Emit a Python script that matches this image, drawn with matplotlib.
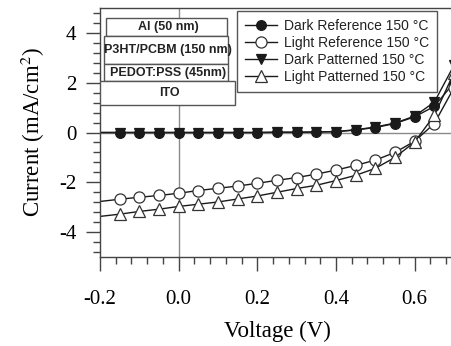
#!/usr/bin/env python3
# J-V curves of reference and patterned devices (dark / light), annealed 150 °C
import matplotlib
matplotlib.use('Agg')
import matplotlib.pyplot as plt
from matplotlib.patches import Rectangle
from matplotlib.ticker import MultipleLocator

# Data
voltage = [-0.2, -0.15, -0.1, -0.05, 0.0, 0.05, 0.1, 0.15, 0.2, 0.25,
           0.3, 0.35, 0.4, 0.45, 0.5, 0.55, 0.6, 0.65, 0.7]
dark_ref = [0.0, 0.0, 0.0, 0.0, 0.0, 0.0, 0.0, 0.0, 0.0, 0.01,
            0.01, 0.02, 0.03, 0.1, 0.2, 0.36, 0.63, 1.05, 2.0]
dark_pat = [0.0, 0.0, 0.0, 0.0, 0.0, 0.0, 0.0, 0.0, 0.0, 0.01,
            0.01, 0.02, 0.04, 0.11, 0.22, 0.38, 0.66, 1.22, 2.7]
light_ref = [-2.77, -2.68, -2.6, -2.53, -2.44, -2.33, -2.24, -2.15, -2.04, -1.92,
             -1.81, -1.67, -1.51, -1.32, -1.11, -0.8, -0.35, 0.36, 1.8]
light_pat = [-3.37, -3.28, -3.17, -3.08, -2.97, -2.88, -2.79, -2.67, -2.55, -2.4,
             -2.25, -2.12, -1.93, -1.72, -1.44, -1.0, -0.38, 0.69, 2.4]

labels = ["Dark Reference 150 °C", "Light Reference 150 °C",
          "Dark Patterned 150 °C", "Light Patterned 150 °C"]
x_ticks = [-0.2, 0.0, 0.2, 0.4, 0.6]
x_ticklabels = ["-0.2", "0.0", "0.2", "0.4", "0.6"]
y_ticks = [-4, -2, 0, 2, 4]
y_ticklabels = ["-4", "-2", "0", "2", "4"]

# device stack drawn in the upper left corner (top to bottom)
layers = ["Al (50 nm)", "P3HT/PCBM (150 nm)", "PEDOT:PSS (45nm)", "ITO"]

plt.rcParams["font.family"] = "serif"
plt.rcParams["font.serif"] = ["Liberation Serif", "DejaVu Serif"]
plt.rcParams["mathtext.fontset"] = "stix"
plt.rcParams["axes.unicode_minus"] = False

W, H = 452, 346
fig = plt.figure(figsize=(W / 100, H / 100), dpi=100)
# axes in pixels: left 100, bottom 257 (from top), top 8; right runs off the picture
ax = fig.add_axes([100 / W, (H - 257) / H, 354 / W, 249 / H])

line_col = "#1a1a1a"
axis_col = "#444444"

ax.axhline(0, color="#8a8a8a", lw=1.0, zorder=1)
ax.axvline(0, color="#8a8a8a", lw=1.0, zorder=1)

marks = list(range(1, len(voltage)))
common = dict(color=line_col, lw=1.0, mew=0.9, markevery=marks, zorder=2)
h_dp, = ax.plot(voltage, dark_pat, marker="v", ms=7, mfc=line_col, mec=line_col, **common)
h_dr, = ax.plot(voltage, dark_ref, marker="o", ms=7, mfc=line_col, mec=line_col, **common)
h_lr, = ax.plot(voltage, light_ref, marker="o", ms=8, mfc="white", mec="#333333", **common)
h_lp, = ax.plot(voltage, light_pat, marker="^", ms=8, mfc="white", mec="#333333", **common)

ax.set_xlim(-0.2, 0.7)
ax.set_ylim(-5, 5)
ax.set_xticks(x_ticks)
ax.set_xticklabels(x_ticklabels)
ax.set_yticks(y_ticks)
ax.set_yticklabels(y_ticklabels)
ax.xaxis.set_minor_locator(MultipleLocator(0.04))
ax.yaxis.set_minor_locator(MultipleLocator(0.4))
ax.tick_params(which="major", direction="out", length=10, width=1.0, color=axis_col,
               labelsize=15)
ax.tick_params(which="minor", direction="out", length=5, width=1.0, color=axis_col)
ax.tick_params(axis="x", which="major", pad=14)
ax.tick_params(axis="y", which="major", pad=7)

for side in ["left", "bottom", "top"]:
    ax.spines[side].set_color(axis_col)
    ax.spines[side].set_linewidth(1.0)
ax.spines["right"].set_visible(False)

ax.set_xlabel("Voltage (V)", fontsize=16.5, labelpad=8)
ax.set_ylabel("Current (mA/cm$^2$)", fontsize=16.5, labelpad=9)

# layer boxes, axes coords (x0, x1, y_top, y_bottom)
boxes = [(0.018, 0.358, 0.959, 0.888),
         (0.012, 0.362, 0.888, 0.774),
         (0.012, 0.362, 0.774, 0.706),
         (0.0, 0.381, 0.706, 0.610)]
for name, (x0, x1, yt, yb) in zip(layers, boxes):
    ax.add_patch(Rectangle((x0, yb), x1 - x0, yt - yb, transform=ax.transAxes,
                           fc="white", ec="#555555", lw=1.0, zorder=3))
    ax.text((x0 + x1) / 2 + 0.005, (yt + yb) / 2, name, transform=ax.transAxes,
            ha="center", va="center", fontsize=9, fontweight="bold",
            family="Liberation Sans", color="#222222", zorder=4)

leg = ax.legend([h_dr, h_lr, h_dp, h_lp], labels, loc="upper left",
                bbox_to_anchor=(0.386, 0.988), borderaxespad=0,
                prop={"family": "Liberation Sans", "size": 10},
                handlelength=2.3, handletextpad=0.5, labelspacing=0.2,
                borderpad=0.6, fancybox=False, framealpha=1.0,
                edgecolor="#555555")
leg.get_frame().set_linewidth(1.0)
leg.set_zorder(5)
for t in leg.get_texts():
    t.set_color("#222222")

fig.savefig("out.png", dpi=100)
